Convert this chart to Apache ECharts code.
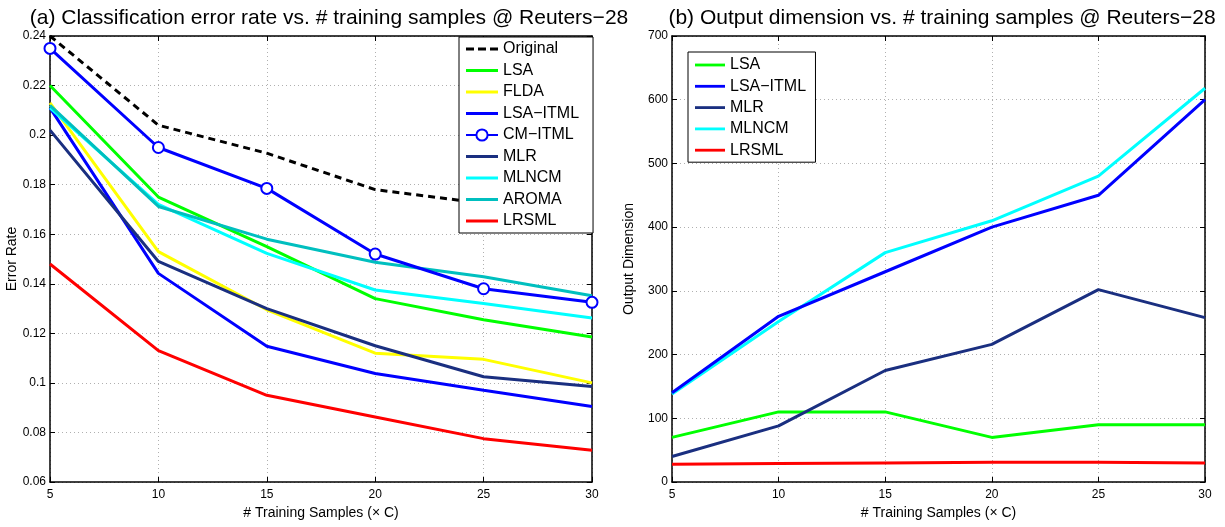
<!DOCTYPE html>
<html>
<head>
<meta charset="utf-8">
<script src="https://cdn.jsdelivr.net/npm/echarts@6/dist/echarts.min.js"></script>
<style>
html,body{margin:0;padding:0;background:#fff;}
#main{width:1225px;height:527px;}
</style>
</head>
<body>
<div id="main"></div>
<script>
// ---------- Data ----------
var xSamples = [5, 10, 15, 20, 25, 30];

// (a) Classification error rate
var errOriginal = [0.240, 0.204, 0.1927, 0.178, 0.1725, 0.166];
var errLSA      = [0.220, 0.175, 0.155, 0.134, 0.1255, 0.1185];
var errFLDA     = [0.213, 0.153, 0.1295, 0.112, 0.1095, 0.100];
var errLSAITML  = [0.211, 0.1442, 0.1148, 0.1038, 0.097, 0.0905];
var errCMITML   = [0.235, 0.195, 0.1785, 0.152, 0.138, 0.1325];
var errMLR      = [0.202, 0.149, 0.130, 0.115, 0.1025, 0.0985];
var errMLNCM    = [0.211, 0.172, 0.1523, 0.1375, 0.132, 0.1262];
var errAROMA    = [0.212, 0.1712, 0.158, 0.1487, 0.1428, 0.1352];
var errLRSML    = [0.148, 0.113, 0.095, 0.0862, 0.0775, 0.0728];

// (b) Output dimension
var dimLSA     = [70, 110, 110, 70, 90, 90];
var dimLSAITML = [140, 260, 330, 400, 450, 600];
var dimMLR     = [40, 88, 175, 216, 302, 258];
var dimMLNCM   = [138, 252, 360, 410, 480, 618];
var dimLRSML   = [28, 29, 30, 31, 31, 30];

var titleA = '(a) Classification error rate vs. # training samples @ Reuters\u221228';
var titleB = '(b) Output dimension vs. # training samples @ Reuters\u221228';
var xName = '# Training Samples (\u00d7 C)';

function pairs(ys){ return xSamples.map(function(x,i){ return [x, ys[i]]; }); }

var FONT = '"Liberation Sans", Arial, Helvetica, sans-serif';
var COL = {
  orig:'#000000', lsa:'#00ff00', flda:'#ffff00', lsaitml:'#0000ff', cmitml:'#0000ff',
  mlr:'#1a2f80', mlncm:'#00ffff', aroma:'#00bfbf', lrsml:'#ff0000'
};

var ICON_SOLID = 'path://M0,0 L32,0 L32,3 L0,3 Z';
var ICON_DASH = 'path://M0,0 L8,0 L8,3 L0,3 Z M12,0 L20,0 L20,3 L12,3 Z M24,0 L32,0 L32,3 L24,3 Z';

var gridLine = {show:true, lineStyle:{color:'#b0b0b0', type:[1,3], width:1}};

function xAxisDef(gi, pos, showLabel){
  return {
    type:'value', gridIndex:gi, position:pos, min:5, max:30, interval:5,
    axisLine:{show:true, onZero:false, lineStyle:{color:'#000', width:1.5}},
    axisTick:{show:true, inside:true, length:5, lineStyle:{color:'#000'}},
    axisLabel:{show:showLabel, color:'#000', fontSize:12, fontFamily:FONT, margin:7},
    splitLine: showLabel ? gridLine : {show:false},
    name: showLabel ? xName : '', nameLocation:'middle', nameGap:22,
    nameTextStyle:{color:'#000', fontSize:14, fontFamily:FONT}
  };
}
function yAxisDef(gi, pos, showLabel, min, max, interval, name, gap, fmt){
  return {
    type:'value', gridIndex:gi, position:pos, min:min, max:max, interval:interval,
    axisLine:{show:true, onZero:false, lineStyle:{color:'#000', width:1.5}},
    axisTick:{show:true, inside:true, length:5, lineStyle:{color:'#000'}},
    axisLabel:{show:showLabel, color:'#000', fontSize:12, fontFamily:FONT, margin:4, formatter:fmt},
    splitLine: showLabel ? gridLine : {show:false},
    name: showLabel ? name : '', nameLocation:'middle', nameGap:gap,
    nameTextStyle:{color:'#000', fontSize:14, fontFamily:FONT}
  };
}

function lineSeries(name, data, color, xi, yi, extra){
  var s = {
    name:name, type:'line', xAxisIndex:xi, yAxisIndex:yi, data:pairs(data),
    symbol:'none', showSymbol:false, animation:false, silent:true,
    lineStyle:{color:color, width:3}, itemStyle:{color:color}, z:3
  };
  if (extra) for (var k in extra) s[k] = extra[k];
  return s;
}

var legendText = {color:'#000', fontSize:16, fontFamily:FONT};

var option = {
  backgroundColor:'#fff',
  animation:false,
  textStyle:{fontFamily:FONT},
  title:[
    {text:titleA, left:324, top:3, textAlign:'center', textStyle:{fontSize:21, fontWeight:'normal', color:'#000', fontFamily:FONT}},
    {text:titleB, left:937, top:3, textAlign:'center', textStyle:{fontSize:21, fontWeight:'normal', color:'#000', fontFamily:FONT}}
  ],
  grid:[
    {left:50, right:633, top:36, bottom:45, containLabel:false},
    {left:672, right:20, top:36, bottom:45, containLabel:false}
  ],
  xAxis:[
    xAxisDef(0,'bottom',true), xAxisDef(0,'top',false),
    xAxisDef(1,'bottom',true), xAxisDef(1,'top',false)
  ],
  yAxis:[
    yAxisDef(0,'left',true,0.06,0.24,0.02,'Error Rate',26,function(v){return String(+v.toFixed(2));}),
    yAxisDef(0,'right',false,0.06,0.24,0.02,'',0,null),
    yAxisDef(1,'left',true,0,700,100,'Output Dimension',36,null),
    yAxisDef(1,'right',false,0,700,100,'',0,null)
  ],
  legend:[
    {
      left:459, top:37, orient:'vertical',
      itemWidth:32, itemHeight:14, itemGap:5.5,
      padding:[4,14,4,6],
      backgroundColor:'#fff', borderColor:'#000', borderWidth:1,
      textStyle:legendText,
      data:[
        {name:'Original', icon:ICON_DASH},
        {name:'LSA', icon:ICON_SOLID},
        {name:'FLDA', icon:ICON_SOLID},
        {name:'LSA\u2212ITML', icon:ICON_SOLID},
        {name:'CM\u2212ITML'},
        {name:'MLR', icon:ICON_SOLID},
        {name:'MLNCM', icon:ICON_SOLID},
        {name:'AROMA', icon:ICON_SOLID},
        {name:'LRSML', icon:ICON_SOLID}
      ]
    },
    {
      left:688, top:52, orient:'vertical',
      itemWidth:30, itemHeight:14, itemGap:5.3,
      padding:[5,5,4,7],
      backgroundColor:'#fff', borderColor:'#000', borderWidth:1,
      textStyle:legendText,
      data:[
        {name:'LSA ', icon:ICON_SOLID},
        {name:'LSA\u2212ITML ', icon:ICON_SOLID},
        {name:'MLR ', icon:ICON_SOLID},
        {name:'MLNCM ', icon:ICON_SOLID},
        {name:'LRSML ', icon:ICON_SOLID}
      ]
    }
  ],
  series:[
    lineSeries('Original', errOriginal, COL.orig, 0, 0, {lineStyle:{color:COL.orig, width:3, type:[7,5]}}),
    lineSeries('LSA', errLSA, COL.lsa, 0, 0),
    lineSeries('FLDA', errFLDA, COL.flda, 0, 0),
    lineSeries('LSA\u2212ITML', errLSAITML, COL.lsaitml, 0, 0),
    lineSeries('MLR', errMLR, COL.mlr, 0, 0),
    lineSeries('MLNCM', errMLNCM, COL.mlncm, 0, 0),
    lineSeries('AROMA', errAROMA, COL.aroma, 0, 0),
    lineSeries('CM\u2212ITML', errCMITML, COL.cmitml, 0, 0, {
      symbol:'emptyCircle', showSymbol:true, symbolSize:11,
      itemStyle:{color:COL.cmitml, borderWidth:2.5}, z:5
    }),
    lineSeries('LRSML', errLRSML, COL.lrsml, 0, 0),

    lineSeries('LSA ', dimLSA, COL.lsa, 2, 2),
    lineSeries('MLNCM ', dimMLNCM, COL.mlncm, 2, 2),
    lineSeries('LSA\u2212ITML ', dimLSAITML, COL.lsaitml, 2, 2),
    lineSeries('MLR ', dimMLR, COL.mlr, 2, 2),
    lineSeries('LRSML ', dimLRSML, COL.lrsml, 2, 2)
  ]
};

var chart = echarts.init(document.getElementById('main'), null, {renderer:'canvas'});
chart.setOption(option);
</script>
</body>
</html>
